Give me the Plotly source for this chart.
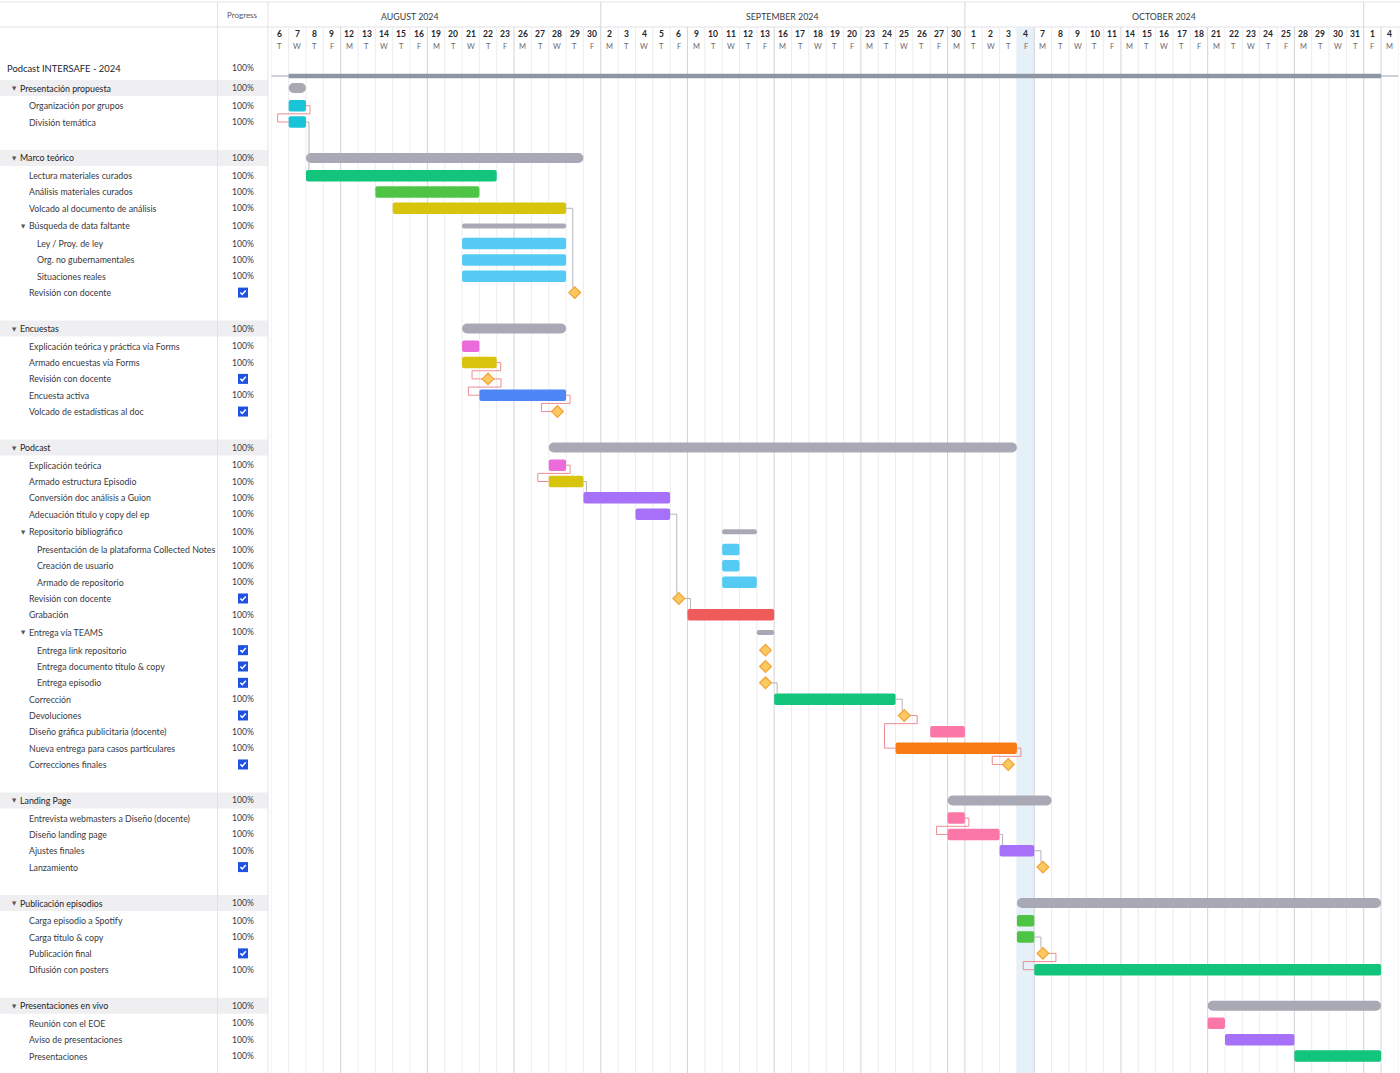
import datetime as dt
import plotly.graph_objects as go

# ---------------------------------------------------------------- DATA
TIMELINE_FIRST_DAY = "2024-08-06"
TIMELINE_LAST_DAY = "2024-11-04"
TODAY = "2024-10-04"
MONTH_LABELS = {8: "AUGUST 2024", 9: "SEPTEMBER 2024", 10: "OCTOBER 2024", 11: ""}
WEEKDAY_LETTERS = ["M", "T", "W", "T", "F"]
PROGRESS_HEADER = "Progress"

task_names = [
    "Podcast INTERSAFE - 2024",
    "Presentación propuesta", "Organización por grupos", "División temática", "",
    "Marco teórico", "Lectura materiales curados", "Análisis materiales curados",
    "Volcado al documento de análisis", "Búsqueda de data faltante", "Ley / Proy. de ley",
    "Org. no gubernamentales", "Situaciones reales", "Revisión con docente", "",
    "Encuestas", "Explicación teórica y práctica vía Forms", "Armado encuestas vía Forms",
    "Revisión con docente", "Encuesta activa", "Volcado de estadísticas al doc", "",
    "Podcast", "Explicación teórica", "Armado estructura Episodio",
    "Conversión doc análisis a Guion", "Adecuación titulo y copy del ep",
    "Repositorio bibliográfico", "Presentación de la plataforma Collected Notes",
    "Creación de usuario", "Armado de repositorio", "Revisión con docente", "Grabación",
    "Entrega vía TEAMS", "Entrega link repositorio", "Entrega documento titulo & copy",
    "Entrega episodio", "Corrección", "Devoluciones", "Diseño gráfica publicitaria (docente)",
    "Nueva entrega para casos particulares", "Correcciones finales", "",
    "Landing Page", "Entrevista webmasters a Diseño (docente)", "Diseño landing page",
    "Ajustes finales", "Lanzamiento", "",
    "Publicación episodios", "Carga episodio a Spotify", "Carga titulo & copy",
    "Publicación final", "Difusión con posters", "",
    "Presentaciones en vivo", "Reunión con el EOE", "Aviso de presentaciones", "Presentaciones",
]

row_kind = [
    "project",
    "group", "task", "task", "blank",
    "group", "task", "task", "task", "sub", "task", "task", "task", "milestone", "blank",
    "group", "task", "task", "milestone", "task", "milestone", "blank",
    "group", "task", "task", "task", "task", "sub", "task", "task", "task", "milestone", "task",
    "sub", "milestone", "milestone", "milestone", "task", "milestone", "task", "task",
    "milestone", "blank",
    "group", "task", "task", "task", "milestone", "blank",
    "group", "task", "task", "milestone", "task", "blank",
    "group", "task", "task", "task",
]

row_level = [
    0,
    1, 2, 2, 0,
    1, 2, 2, 2, 2, 3, 3, 3, 2, 0,
    1, 2, 2, 2, 2, 2, 0,
    1, 2, 2, 2, 2, 2, 3, 3, 3, 2, 2,
    2, 3, 3, 3, 2, 2, 2, 2, 2, 0,
    1, 2, 2, 2, 2, 0,
    1, 2, 2, 2, 2, 0,
    1, 2, 2, 2,
]

start_date = [
    "2024-08-07",
    "2024-08-07", "2024-08-07", "2024-08-07", None,
    "2024-08-08", "2024-08-08", "2024-08-14", "2024-08-15", "2024-08-21", "2024-08-21",
    "2024-08-21", "2024-08-21", "2024-08-29", None,
    "2024-08-21", "2024-08-21", "2024-08-21", "2024-08-22", "2024-08-22", "2024-08-28", None,
    "2024-08-28", "2024-08-28", "2024-08-28", "2024-08-30", "2024-09-04", "2024-09-11",
    "2024-09-11", "2024-09-11", "2024-09-11", "2024-09-06", "2024-09-09",
    "2024-09-13", "2024-09-13", "2024-09-13", "2024-09-13", "2024-09-16", "2024-09-25",
    "2024-09-27", "2024-09-25", "2024-10-03", None,
    "2024-09-30", "2024-09-30", "2024-09-30", "2024-10-03", "2024-10-07", None,
    "2024-10-04", "2024-10-04", "2024-10-04", "2024-10-07", "2024-10-07", None,
    "2024-10-21", "2024-10-21", "2024-10-22", "2024-10-28",
]

end_date = [
    "2024-11-01",
    "2024-08-07", "2024-08-07", "2024-08-07", None,
    "2024-08-29", "2024-08-22", "2024-08-21", "2024-08-28", "2024-08-28", "2024-08-28",
    "2024-08-28", "2024-08-28", "2024-08-29", None,
    "2024-08-28", "2024-08-21", "2024-08-22", "2024-08-22", "2024-08-28", "2024-08-28", None,
    "2024-10-03", "2024-08-28", "2024-08-29", "2024-09-05", "2024-09-05", "2024-09-12",
    "2024-09-11", "2024-09-11", "2024-09-12", "2024-09-06", "2024-09-13",
    "2024-09-13", "2024-09-13", "2024-09-13", "2024-09-13", "2024-09-24", "2024-09-25",
    "2024-09-30", "2024-10-03", "2024-10-03", None,
    "2024-10-07", "2024-09-30", "2024-10-02", "2024-10-04", "2024-10-07", None,
    "2024-11-01", "2024-10-04", "2024-10-04", "2024-10-07", "2024-11-01", None,
    "2024-11-01", "2024-10-21", "2024-10-25", "2024-11-01",
]

progress_label = [
    "100%",
    "100%", "100%", "100%", "",
    "100%", "100%", "100%", "100%", "100%", "100%", "100%", "100%", "check", "",
    "100%", "100%", "100%", "check", "100%", "check", "",
    "100%", "100%", "100%", "100%", "100%", "100%", "100%", "100%", "100%", "check", "100%",
    "100%", "check", "check", "check", "100%", "check", "100%", "100%", "check", "",
    "100%", "100%", "100%", "100%", "check", "",
    "100%", "100%", "100%", "check", "100%", "",
    "100%", "100%", "100%", "100%",
]

# (predecessor row, successor row, link state)
dependencies = [
    (2, 3, "conflict"), (3, 6, "ok"), (8, 13, "ok"),
    (17, 18, "conflict"), (18, 19, "conflict"), (19, 20, "conflict"),
    (23, 24, "conflict"), (24, 25, "ok"), (26, 31, "ok"), (31, 32, "ok"),
    (36, 37, "ok"), (37, 38, "ok"), (38, 40, "conflict"), (40, 41, "conflict"),
    (44, 45, "conflict"), (45, 46, "ok"), (46, 47, "ok"),
    (51, 52, "ok"), (52, 53, "conflict"),
]

# ---------------------------------------------------------------- STYLE
bar_color_key = [
    None,
    None, "cyan", "cyan", None,
    None, "green", "lime", "yellow", None, "sky", "sky", "sky", None, None,
    None, "magenta", "yellow", None, "blue", None, None,
    None, "magenta", "yellow", "purple", "purple", None, "sky", "sky", "sky", None, "red",
    None, None, None, None, "green", None, "pink", "orange", None, None,
    None, "pink", "pink", "purple", None, None,
    None, "lime", "lime", None, "green", None,
    None, "pink", "purple", "green",
]
PALETTE = {
    "cyan": "#19c4d8", "green": "#12c47c", "lime": "#4dc443", "yellow": "#d9c40d",
    "sky": "#55cbf4", "magenta": "#ea6bd9", "blue": "#4e86f7", "purple": "#a670f8",
    "red": "#ef5a5b", "pink": "#fa77a8", "orange": "#f67b12",
}
GROUP_GREY = "#a9a9b6"
PROJECT_GREY = "#8e96a3"
FONT = "Lato"

W, H = 1400, 1073
TL_X0, TL_X1 = 271.3, 1398.4          # timeline pixel extent
ROW_TOP = 57.5
ROW_H = {"project": 21, "group": 19, "sub": 19, "blank": 18.3, "task": 16.33, "milestone": 16.33}
BAR_THICK = {"project": 4.5, "group": 10, "sub": 5, "task": 11.5}
PROJECT_BAR_DROP = 8
MS_HALF = 5


def workdays(a, b):
    d, e = dt.date.fromisoformat(a), dt.date.fromisoformat(b)
    out = []
    while d <= e:
        if d.weekday() < 5:
            out.append(d)
        d += dt.timedelta(days=1)
    return out


days = workdays(TIMELINE_FIRST_DAY, TIMELINE_LAST_DAY)
N_DAYS = len(days)
col_px = (TL_X1 - TL_X0) / N_DAYS
day_index = {d: i for i, d in enumerate(days)}
first_day = days[0]


def di(s):
    return day_index[dt.date.fromisoformat(s)]


def px(v):
    return v / col_px


def workday_offset(d):
    """signed working-day offset of date d from the first visible column"""
    if d >= first_day:
        return len(workdays(first_day.isoformat(), d.isoformat())) - 1
    return -(len(workdays(d.isoformat(), first_day.isoformat())) - 1)


# row centres
row_y = []
yy = ROW_TOP
for k in row_kind:
    h = ROW_H[k]
    row_y.append(yy + h / 2)
    yy += h

# geometry of every mark (x0, x1, y, half-height)
geom = []
for i, k in enumerate(row_kind):
    if k == "blank":
        geom.append(None)
    elif k == "milestone":
        c = di(start_date[i]) + 0.5
        geom.append((c - px(MS_HALF), c + px(MS_HALF), row_y[i], MS_HALF))
    else:
        yc = row_y[i] + (PROJECT_BAR_DROP if k == "project" else 0)
        geom.append((di(start_date[i]), di(end_date[i]) + 1, yc, BAR_THICK[k] / 2))

fig = go.Figure()
shapes = []
annotations = []

# ---------------------------------------------------------------- background / grid
ti = di(TODAY)
shapes.append(dict(type="rect", xref="x", yref="y", x0=ti, x1=ti + 1, y0=27, y1=H,
                   fillcolor="#e6f0f9", line_width=0, layer="below"))
for i, k in enumerate(row_kind):
    if k == "group":
        shapes.append(dict(type="rect", xref="x2", yref="y", x0=0, x1=268, y0=row_y[i] - 8,
                           y1=row_y[i] + 8, fillcolor="#efeff1", line_width=0, layer="below"))
for i in range(N_DAYS + 1):
    week = i < N_DAYS and days[i].weekday() == 0
    month = i < N_DAYS and i > 0 and days[i].month != days[i - 1].month
    col = "#d3d3d8" if (week or month) else "#ececef"
    shapes.append(dict(type="line", xref="x", yref="y", x0=i, x1=i, y0=27, y1=H,
                       line=dict(color=col, width=1), layer="below"))
# month separators + month labels centred on the whole month
month_starts = [i for i in range(N_DAYS) if i == 0 or days[i].month != days[i - 1].month]
for s in month_starts:
    d = days[s]
    if s > 0:
        shapes.append(dict(type="line", xref="x", yref="y", x0=s, x1=s, y0=2, y1=27,
                           line=dict(color="#d6d6db", width=1), layer="below"))
    label = MONTH_LABELS[d.month]
    if label:
        m_first = dt.date(d.year, d.month, 1)
        m_last = dt.date(d.year + (d.month == 12), d.month % 12 + 1, 1) - dt.timedelta(days=1)
        wd = workdays(m_first.isoformat(), m_last.isoformat())
        a = workday_offset(wd[0])
        b = workday_offset(wd[-1]) + 1
        annotations.append(dict(x=(a + b) / 2, y=16, xref="x", yref="y", text=label,
                                showarrow=False, xanchor="center", yanchor="middle",
                                font=dict(family=FONT, size=8.8, color="#3a3a40")))
shapes.append(dict(type="line", xref="paper", yref="y", x0=0, x1=1, y0=27, y1=27,
                   line=dict(color="#e2e2e6", width=1), layer="below"))
shapes.append(dict(type="line", xref="paper", yref="y", x0=0, x1=1, y0=2, y1=2,
                   line=dict(color="#e6e6ea", width=1), layer="below"))
for xv in (217.5, 268):
    shapes.append(dict(type="line", xref="x2", yref="y", x0=xv, x1=xv, y0=2, y1=H,
                       line=dict(color="#e2e2e6", width=1), layer="below"))
shapes.append(dict(type="line", xref="x", yref="y", x0=0, x1=N_DAYS, y0=geom[0][2], y1=geom[0][2],
                   line=dict(color="#9aa1ac", width=1), layer="below"))

for i, d in enumerate(days):
    annotations.append(dict(x=i + 0.5, y=34, xref="x", yref="y", text=str(d.day), showarrow=False,
                            xanchor="center", yanchor="middle",
                            font=dict(family=FONT, size=8.5, color="#26262c", weight="bold")))
    annotations.append(dict(x=i + 0.5, y=46, xref="x", yref="y", text=WEEKDAY_LETTERS[d.weekday()],
                            showarrow=False, xanchor="center", yanchor="middle",
                            font=dict(family=FONT, size=7.5, color="#6a6a72")))
annotations.append(dict(x=242.5, y=15, xref="x2", yref="y", text=PROGRESS_HEADER, showarrow=False,
                        xanchor="center", yanchor="middle",
                        font=dict(family=FONT, size=8, color="#55555c")))

# ---------------------------------------------------------------- left panel text
NAME_X = {0: 5, 1: 18, 2: 27, 3: 35}
TRI_X = {1: 14, 2: 23}
for i, name in enumerate(task_names):
    k = row_kind[i]
    if k == "blank":
        continue
    lvl = row_level[i]
    x = NAME_X[lvl]
    size = 9.4 if k == "project" else 8.8
    col = "#222228" if k in ("project", "group") else "#38383f"
    if k in ("group", "sub"):
        annotations.append(dict(x=TRI_X[lvl], y=row_y[i], xref="x2", yref="y", text="▼",
                                showarrow=False, xanchor="center", yanchor="middle",
                                font=dict(family="DejaVu Sans", size=5.5, color="#55555c")))
    annotations.append(dict(x=x, y=row_y[i], xref="x2", yref="y", text=name, showarrow=False,
                            xanchor="left", yanchor="middle",
                            font=dict(family=FONT, size=size, color=col)))
    if progress_label[i] not in ("", "check"):
        annotations.append(dict(x=242.5, y=row_y[i], xref="x2", yref="y", text=progress_label[i],
                                showarrow=False, xanchor="center", yanchor="middle",
                                font=dict(family=FONT, size=8.6, color="#38383f")))

# ---------------------------------------------------------------- connectors
ok_x, ok_y, bad_x, bad_y = [], [], [], []
for p, s, state in dependencies:
    x0p, x1p, yp, hp = geom[p]
    x0s, x1s, ys, hs = geom[s]
    if state == "ok":
        xv = max(x1p + px(3), x0s + px(3))
        ok_x += [x1p, xv, xv, None]
        ok_y += [yp, yp, ys - hs, None]
    else:
        xr = x1p + px(8 if row_kind[p] == "milestone" else 4)
        ym = yp + 8.2
        xl = x0s - px(11)
        bad_x += [x1p, xr, xr, xl, xl, x0s, None]
        bad_y += [yp, yp, ym, ym, ys, ys, None]
fig.add_trace(go.Scatter(x=ok_x, y=ok_y, mode="lines", line=dict(color="#b4b4bc", width=1),
                         hoverinfo="skip", xaxis="x", yaxis="y"))
fig.add_trace(go.Scatter(x=bad_x, y=bad_y, mode="lines", line=dict(color="#ec8c90", width=1),
                         hoverinfo="skip", xaxis="x", yaxis="y"))


# ---------------------------------------------------------------- bars
def bar_trace(kind, radius, color_fn):
    idx = [i for i, k in enumerate(row_kind) if k == kind]
    return go.Bar(orientation="h", y=[geom[i][2] for i in idx], base=[geom[i][0] for i in idx],
                  x=[geom[i][1] - geom[i][0] for i in idx], width=[2 * geom[i][3] for i in idx],
                  marker=dict(color=[color_fn(i) for i in idx], cornerradius=radius,
                              line=dict(width=0)),
                  hoverinfo="skip", xaxis="x", yaxis="y")


fig.add_trace(bar_trace("project", 0, lambda i: PROJECT_GREY))
fig.add_trace(bar_trace("group", "50%", lambda i: GROUP_GREY))
fig.add_trace(bar_trace("sub", "50%", lambda i: GROUP_GREY))
fig.add_trace(bar_trace("task", 2, lambda i: PALETTE[bar_color_key[i]]))

ms = [i for i, k in enumerate(row_kind) if k == "milestone"]
fig.add_trace(go.Scatter(x=[(geom[i][0] + geom[i][1]) / 2 for i in ms], y=[row_y[i] for i in ms],
                         mode="markers",
                         marker=dict(symbol="diamond", size=9, color="#fcc862",
                                     line=dict(color="#f2a233", width=1.2)),
                         hoverinfo="skip", xaxis="x", yaxis="y"))

ck = [i for i, p in enumerate(progress_label) if p == "check"]
fig.add_trace(go.Scatter(x=[243] * len(ck), y=[row_y[i] for i in ck], mode="markers",
                         marker=dict(symbol="square", size=10, color="#1f52e2", line=dict(width=0)),
                         hoverinfo="skip", xaxis="x2", yaxis="y"))
tick_x, tick_y = [], []
for i in ck:
    cy = row_y[i]
    tick_x += [240.4, 242.2, 245.8, None]
    tick_y += [cy - 0.1, cy + 1.9, cy - 2.1, None]
fig.add_trace(go.Scatter(x=tick_x, y=tick_y, mode="lines", line=dict(color="white", width=1.5),
                         hoverinfo="skip", xaxis="x2", yaxis="y"))

fig.update_layout(
    width=W, height=H, margin=dict(l=0, r=0, t=0, b=0),
    paper_bgcolor="white", plot_bgcolor="white", showlegend=False, barmode="overlay",
    xaxis=dict(domain=[TL_X0 / W, TL_X1 / W], range=[0, N_DAYS], visible=False, fixedrange=True),
    xaxis2=dict(domain=[0, TL_X0 / W], range=[0, TL_X0], visible=False, anchor="y", fixedrange=True),
    yaxis=dict(domain=[0, 1], range=[H, 0], visible=False, fixedrange=True),
    shapes=shapes, annotations=annotations,
)

fig.write_html("out.html")
